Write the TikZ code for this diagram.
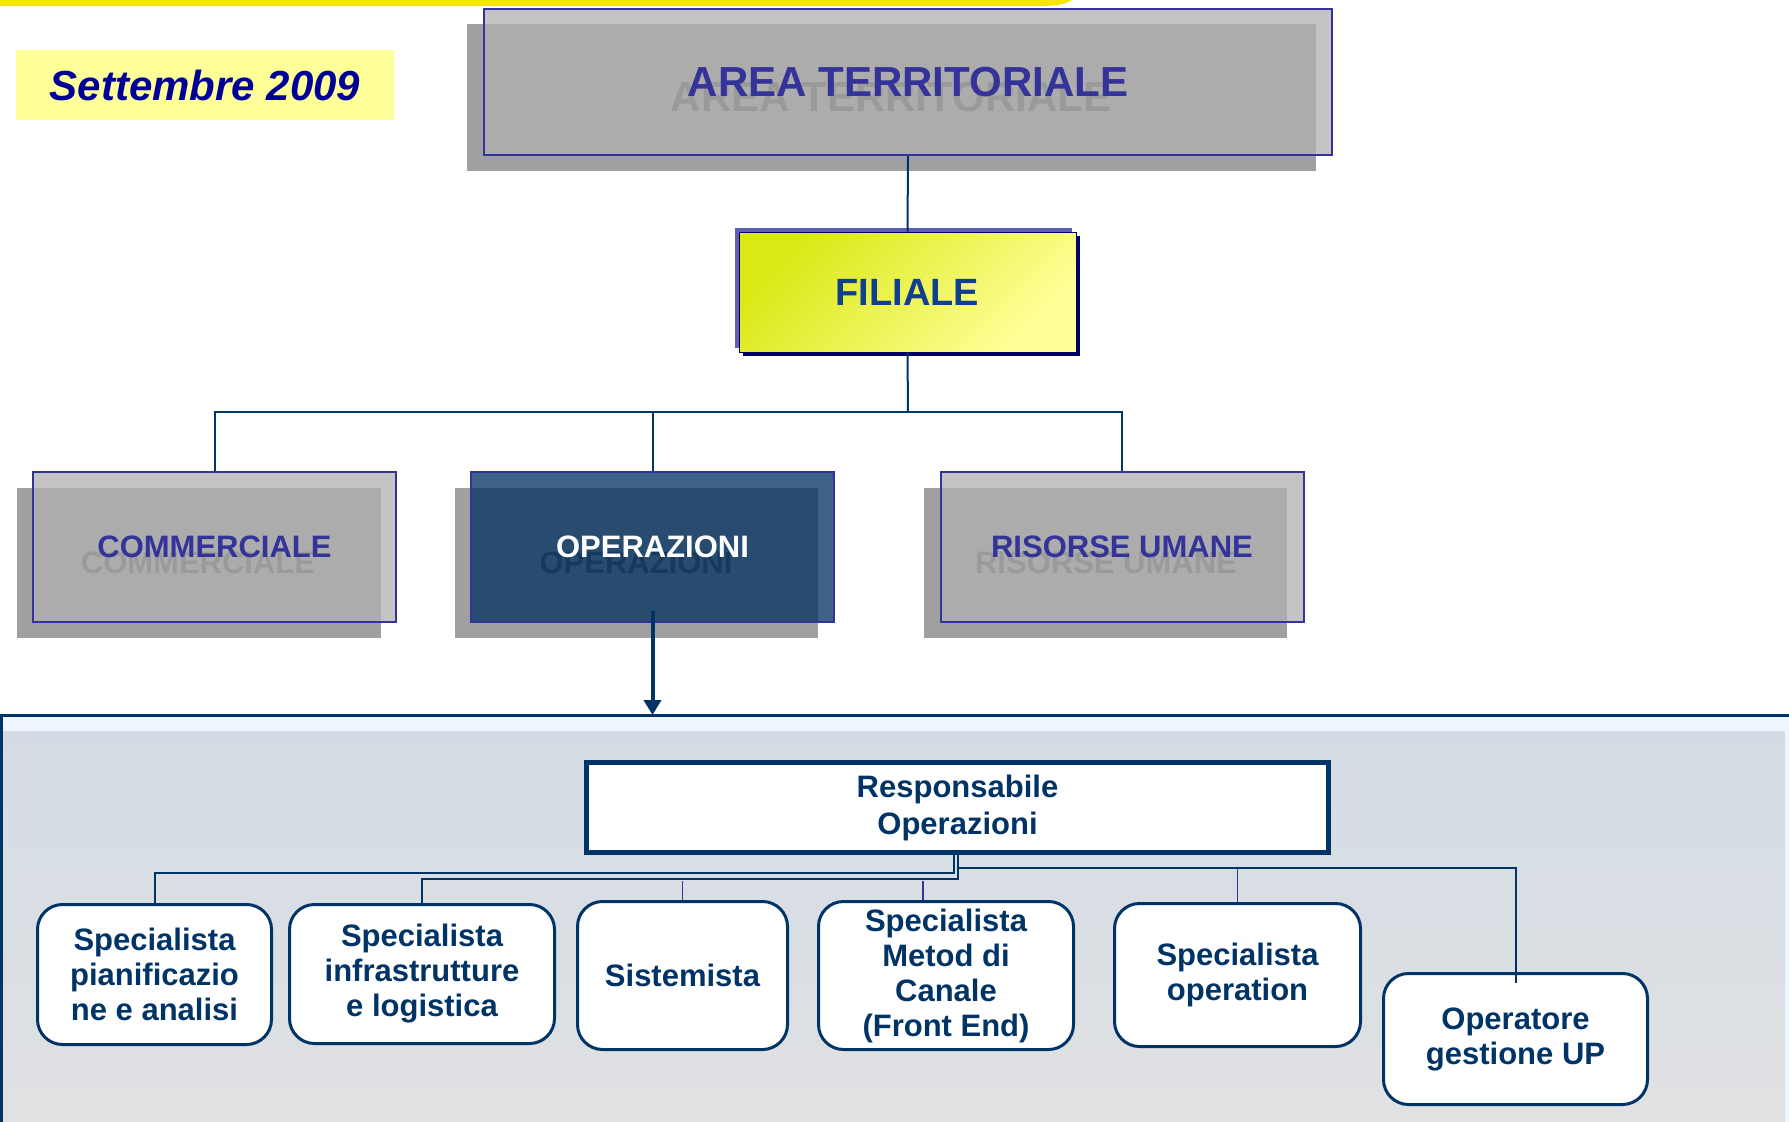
\documentclass[tikz,border=0pt]{standalone}
\usepackage{fontspec}
\setmainfont{Liberation Sans}
\usetikzlibrary{arrows.meta}
\definecolor{navy}{RGB}{0,51,102}
\definecolor{frameblue}{RGB}{51,51,153}
\definecolor{datecol}{RGB}{0,0,153}
\definecolor{notepad}{RGB}{255,255,153}
\definecolor{topbar}{RGB}{247,230,0}
\definecolor{shadowgray}{RGB}{160,160,160}
\definecolor{ghost}{RGB}{85,85,85}
\definecolor{veilgray}{RGB}{177,177,177}
\definecolor{veilblue}{RGB}{2,50,98}
\definecolor{filtop}{RGB}{218,232,20}
\definecolor{filbot}{RGB}{255,255,153}
\definecolor{filtext}{RGB}{16,64,140}
\definecolor{filedge}{RGB}{0,0,102}
\definecolor{filrim}{RGB}{96,96,176}
\definecolor{panelband}{RGB}{238,247,253}
\definecolor{paneltop}{RGB}{211,220,228}
\definecolor{panelbot}{RGB}{224,225,227}
\newcommand{\titlefont}{\fontsize{42}{48}\selectfont\bfseries}
\newcommand{\unitfont}{\fontsize{31}{36}\selectfont\bfseries}
\newcommand{\rolefont}{\fontsize{31}{35}\selectfont\bfseries}

\begin{document}
\begin{tikzpicture}[x=1pt, y=-1pt,
  veil/.style={draw=frameblue, line width=2pt, fill opacity=0.76, text opacity=1,
    inner sep=0pt, minimum width=363pt, minimum height=150pt, font=\unitfont},
  link/.style={draw=navy, line width=2pt},
  stub/.style={draw=frameblue, line width=1.5pt},
  role/.style={draw=navy, line width=3pt, fill=white, rounded corners=25pt,
    text=navy, font=\rolefont, align=center, inner sep=0pt}]

\useasboundingbox (0,0) rectangle (1789,1122);

\fill[topbar] (0,0) -- (1072,0) .. controls (1062,5) .. (1045,6) -- (0,6) -- cycle;

\node[fill=notepad, minimum width=378pt, minimum height=70pt, text=datecol,
  font=\titlefont\itshape] (date) at (205,85) {Settembre 2009};

\fill[shadowgray] (467,24) rectangle (1316,171);
\node[text=ghost, font=\titlefont] (areaghost) at (891,97) {AREA TERRITORIALE};
\node[veil, fill=veilgray, text=frameblue, minimum width=848pt, minimum height=146pt,
  font=\titlefont] (area) at (908,82) {AREA TERRITORIALE};

\fill[filrim] (735,228) rectangle (1072,348);
\fill[filedge] (743,236) rectangle (1080,356);
\node[draw=filedge, line width=1pt, top color=filtop, bottom color=filbot, shading angle=45,
  minimum width=337pt, minimum height=120pt, text=filtext,
  font=\fontsize{38}{44}\selectfont\bfseries] (fil) at (907.5,292) {FILIALE};

\fill[shadowgray] (17,488) rectangle (381,638);
\node[text=ghost, font=\unitfont] (commghost) at (198,563) {COMMERCIALE};
\node[veil, fill=veilgray, text=frameblue] (comm) at (214.5,547) {COMMERCIALE};

\fill[shadowgray] (455,488) rectangle (818,638);
\node[text=ghost, font=\unitfont] (opsghost) at (636,563) {OPERAZIONI};
\node[veil, fill=veilblue, text=white] (ops) at (652.5,547) {OPERAZIONI};

\fill[shadowgray] (924,488) rectangle (1287,638);
\node[text=ghost, font=\unitfont] (hrghost) at (1106,563) {RISORSE UMANE};
\node[veil, fill=veilgray, text=frameblue] (hr) at (1122,547) {RISORSE UMANE};

\draw[link] (area.south) -- (fil.north);
\coordinate (fork) at (908,412);
\draw[link] (fil.south) -- (fork);
\draw[link] (fork) -| (comm.north);
\draw[link] (fork) -| (ops.north);
\draw[link] (fork) -| (hr.north);

\fill[panelband] (0,715) rectangle (1789,1122);
\shade[top color=paneltop, bottom color=panelbot] (3,731) rectangle (1785,1122);
\draw[navy, line width=3pt] (0,715) -- (1789,715);
\draw[navy, line width=3pt] (1.5,715) -- (1.5,1122);

\path (ops.south) ++(0,92) coordinate (panel);
\draw[navy, line width=4pt, -{Triangle[length=15pt, width=17pt]}]
  ([yshift=12pt]ops.south) -- (panel);

\node[draw=navy, line width=4.5pt, fill=white, minimum width=742pt, minimum height=90pt,
  text=navy, font=\fontsize{31}{37}\selectfont\bfseries, align=center]
  (resp) at (957.5,807.5) {Responsabile\\Operazioni};

\node[role, minimum width=234pt, minimum height=140pt] (sp1) at (154.5,974.5)
  {Specialista\\pianificazio\\ne e analisi};
\node[role, minimum width=265pt, minimum height=139pt] (sp2) at (422,974)
  {Specialista\\infrastrutture\\e logistica};
\node[role, minimum width=210pt, minimum height=148pt] (sp3) at (682.5,975.5) {Sistemista};
\node[role, minimum width=255pt, minimum height=148pt] (sp4) at (946,975.5)
  {Specialista\\Metod di\\Canale\\(Front End)};
\node[role, minimum width=246pt, minimum height=143pt] (sp5) at (1237.5,975)
  {Specialista\\operation};
\node[role, minimum width=264pt, minimum height=131pt] (up) at (1515.5,1039)
  {Operatore\\gestione UP};

\coordinate (jA) at (954,873);
\coordinate (jB) at (958,879);
\coordinate (jC) at (958,868);
\draw[link] (resp.south -| jA) -- (jA) -| (sp1.north);
\draw[link] (resp.south -| jB) -- (jB) -| (sp2.north);
\draw[link] (jC) -| ([yshift=-11pt]up.north);
\draw[stub] (sp3.north) -- ++(0,-19);
\draw[stub] ([xshift=-23pt]sp4.north) -- ++(0,-19);
\draw[stub] (sp5.north) -- ++(0,-33);

\end{tikzpicture}
\end{document}
